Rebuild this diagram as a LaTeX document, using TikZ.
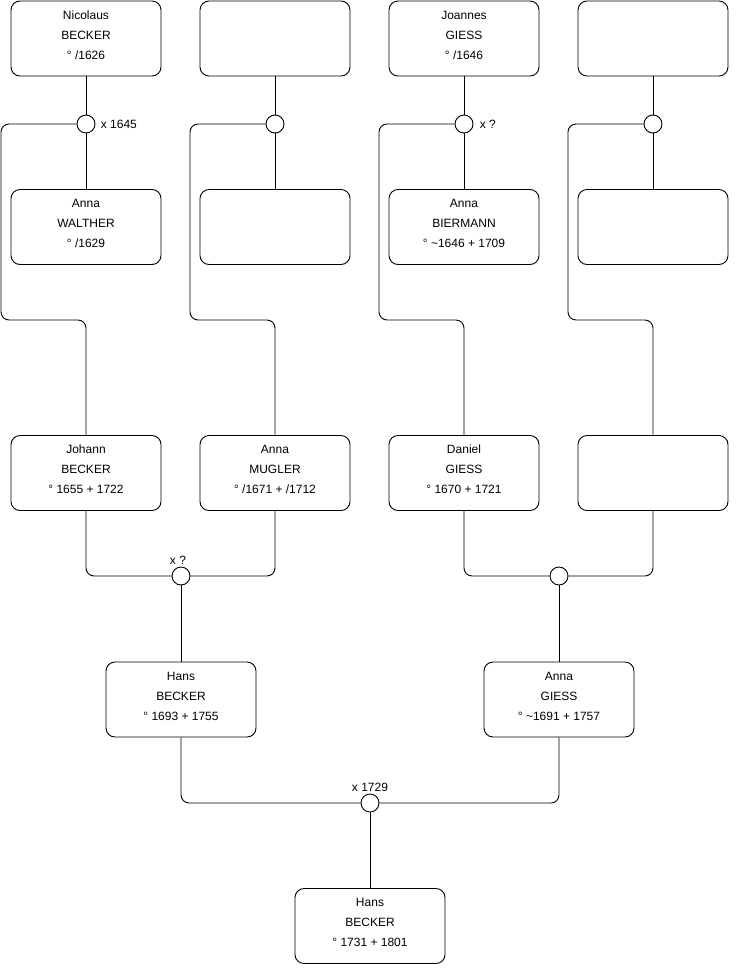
\documentclass[tikz,border=0pt]{standalone}
\usepackage{fontspec}
\setmainfont{Liberation Sans}
\usetikzlibrary{positioning}

\begin{document}
\begin{tikzpicture}[x=1pt,y=-1pt,line width=0.9pt,
person/.style={draw,fill=white,rounded corners=9pt,minimum width=150pt,minimum height=75pt,inner sep=0pt,text depth=7pt,align=center,font=\fontsize{12}{20}\selectfont},
marriage/.style={circle,draw,fill=white,minimum size=18pt,inner sep=0pt},
link/.style={rounded corners=8pt},
note/.style={font=\fontsize{12}{14}\selectfont,inner sep=1pt}]
\useasboundingbox (0,0) rectangle (740,975);
% generation 1 and 2
\node[person] (p1) at (86,38.5) {Nicolaus\\BECKER\\° /1626};
\node[person] (p2) at (275,38.5) {};
\node[person] (p3) at (464,38.5) {Joannes\\GIESS\\° /1646};
\node[person] (p4) at (653,38.5) {};
\node[person] (p5) at (86,227) {Anna\\WALTHER\\° /1629};
\node[person] (p6) at (275,227) {};
\node[person] (p7) at (464,227) {Anna\\BIERMANN\\° \textasciitilde 1646 + 1709};
\node[person] (p8) at (653,227) {};
\foreach \i/\x in {1/86,2/275,3/464,4/653}{\node[marriage] (m\i) at (\x,124) {};}
% generation 3
\node[person] (p9) at (86,473) {Johann\\BECKER\\° 1655 + 1722};
\node[person] (p10) at (275,473) {Anna\\MUGLER\\° /1671 + /1712};
\node[person] (p11) at (464,473) {Daniel\\GIESS\\° 1670 + 1721};
\node[person] (p12) at (653,473) {};
\node[marriage] (m5) at (181,576) {};
\node[marriage] (m6) at (559,576) {};
% generation 4 and 5
\node[person] (p13) at (181,699.5) {Hans\\BECKER\\° 1693 + 1755};
\node[person] (p14) at (559,699.5) {Anna\\GIESS\\° \textasciitilde 1691 + 1757};
\node[marriage] (m7) at (370,803) {};
\node[person] (p15) at (370,926) {Hans\\BECKER\\° 1731 + 1801};
% marriage dates
\node[note,anchor=west,xshift=4pt] (d1) at (m1.east) {x 1645};
\node[note,anchor=west,xshift=5pt] (d3) at (m3.east) {x ?};
\node[note,anchor=south] (d5) at (178,566) {x ?};
\node[note,anchor=south] (d7) at (370,793) {x 1729};
% bends of the lines
\foreach \i/\x in {1/1,2/190,3/379,4/568}{\coordinate (c\i) at (\x,320);}
% lines
\foreach \i/\j/\k in {1/5/9,2/6/10,3/7/11,4/8/12}{
  \draw (p\i.south) -- (m\i.north);
  \draw (m\i.south) -- (p\j.north);
  \draw[link] (m\i.west) -| (c\i) -| (p\k.north);
}
\draw[link] (p9.south) |- (m5.west);
\draw[link] (p10.south) |- (m5.east);
\draw[link] (p11.south) |- (m6.west);
\draw[link] (p12.south) |- (m6.east);
\draw (m5.south) -- (p13.north);
\draw (m6.south) -- (p14.north);
\draw[link] (p13.south) |- (m7.west);
\draw[link] (p14.south) |- (m7.east);
\draw (m7.south) -- (p15.north);
\end{tikzpicture}
\end{document}
